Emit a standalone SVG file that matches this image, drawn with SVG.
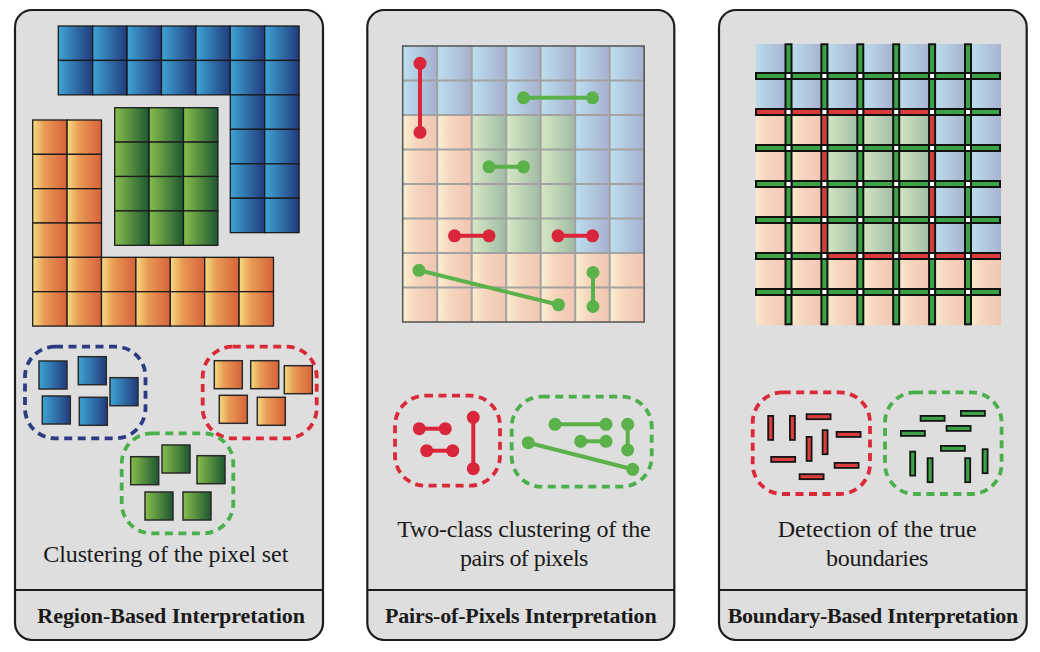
<svg xmlns="http://www.w3.org/2000/svg" xmlns:xlink="http://www.w3.org/1999/xlink" width="1040" height="652" viewBox="0 0 1040 652">
<style>
.panel{fill:#dedede;stroke:#1c1c1c;stroke-width:2.2}
.div{stroke:#1c1c1c;stroke-width:2}
.cap{font-family:"Liberation Serif","Times New Roman",serif;font-size:24px;fill:#1a1a1a;text-anchor:middle}
.hdr{font-family:"Liberation Serif","Times New Roman",serif;font-size:22px;font-weight:bold;fill:#1a1a1a;text-anchor:middle}
.dash{fill:none;stroke-width:3.8;stroke-dasharray:8 5.5}
.dB{stroke:#2d3b83}.dR{stroke:#da2a3a}.dG{stroke:#4bb04c}
.lr{stroke:#d9263a;stroke-width:4;fill:none}
.lg{stroke:#5cb24a;stroke-width:4;fill:none}
.pr{fill:#d9263a}.pg{fill:#5cb24a}
.bar{stroke:#111;stroke-width:2;fill:#3ba346}
.redf{fill:#d93b3b}
.sbR{fill:#d93d3d;stroke:#151515;stroke-width:1.8}
.sbG{fill:#3ba346;stroke:#151515;stroke-width:1.8}
</style>
<defs>
<linearGradient id="gB"><stop offset="0" stop-color="#3ea4d5"/><stop offset="1" stop-color="#213a7c"/></linearGradient>
<linearGradient id="gO"><stop offset="0" stop-color="#f6dc80"/><stop offset="0.35" stop-color="#e89a55"/><stop offset="1" stop-color="#d7623a"/></linearGradient>
<linearGradient id="gG"><stop offset="0" stop-color="#87be4c"/><stop offset="1" stop-color="#1d5731"/></linearGradient>
<linearGradient id="pB"><stop offset="0" stop-color="#bde0f0"/><stop offset="1" stop-color="#a6afcd"/></linearGradient>
<linearGradient id="pO"><stop offset="0" stop-color="#fcf0d0"/><stop offset="0.4" stop-color="#f5d5bd"/><stop offset="1" stop-color="#f1c5b2"/></linearGradient>
<linearGradient id="pG"><stop offset="0" stop-color="#d6e9c6"/><stop offset="1" stop-color="#9fbaa3"/></linearGradient>
<pattern id="p2B" patternUnits="userSpaceOnUse" x="402.7" y="46" width="34.5" height="34.5"><rect width="34.5" height="34.5" fill="url(#pB)"/></pattern>
<pattern id="p2O" patternUnits="userSpaceOnUse" x="402.7" y="46" width="34.5" height="34.5"><rect width="34.5" height="34.5" fill="url(#pO)"/></pattern>
<pattern id="p2G" patternUnits="userSpaceOnUse" x="402.7" y="46" width="34.5" height="34.5"><rect width="34.5" height="34.5" fill="url(#pG)"/></pattern>
<pattern id="p3B" patternUnits="userSpaceOnUse" x="752.6" y="40" width="35.9" height="36"><rect width="35.9" height="36" fill="url(#pB)"/></pattern>
<pattern id="p3O" patternUnits="userSpaceOnUse" x="752.6" y="40" width="35.9" height="36"><rect width="35.9" height="36" fill="url(#pO)"/></pattern>
<pattern id="p3G" patternUnits="userSpaceOnUse" x="752.6" y="40" width="35.9" height="36"><rect width="35.9" height="36" fill="url(#pG)"/></pattern>
<pattern id="p3X" patternUnits="userSpaceOnUse" x="784.5" y="72" width="35.9" height="36"><rect x="1" y="1" width="6" height="6" fill="#fff" stroke="#111" stroke-width="2"/></pattern>
<rect id="cB" width="34.4" height="34.4" fill="url(#gB)" stroke="#1b1b1b" stroke-width="1.3"/>
<rect id="cO" width="34.4" height="34.4" fill="url(#gO)" stroke="#1b1b1b" stroke-width="1.3"/>
<rect id="cG" width="34.4" height="34.4" fill="url(#gG)" stroke="#1b1b1b" stroke-width="1.3"/>
<rect id="sB" width="28" height="28" fill="url(#gB)" stroke="#2a2a2a" stroke-width="1.5"/>
<rect id="sO" width="28" height="28" fill="url(#gO)" stroke="#2a2a2a" stroke-width="1.5"/>
<rect id="sG" width="28" height="28" fill="url(#gG)" stroke="#2a2a2a" stroke-width="1.5"/>
</defs>
<rect width="1040" height="652" fill="#fff"/>

<!-- Panel 1 -->
<g id="panel-region">
<rect class="panel" x="15" y="10" width="308" height="630" rx="17"/>
<line class="div" x1="15" y1="590" x2="323" y2="590"/>
<g id="region-blue">
<use href="#cB" x="58.3" y="26"/><use href="#cB" x="92.7" y="26"/><use href="#cB" x="127.1" y="26"/><use href="#cB" x="161.5" y="26"/><use href="#cB" x="195.9" y="26"/><use href="#cB" x="230.3" y="26"/><use href="#cB" x="264.7" y="26"/>
<use href="#cB" x="58.3" y="60.45"/><use href="#cB" x="92.7" y="60.45"/><use href="#cB" x="127.1" y="60.45"/><use href="#cB" x="161.5" y="60.45"/><use href="#cB" x="195.9" y="60.45"/><use href="#cB" x="230.3" y="60.45"/><use href="#cB" x="264.7" y="60.45"/>
<use href="#cB" x="230.3" y="94.9"/><use href="#cB" x="264.7" y="94.9"/>
<use href="#cB" x="230.3" y="129.35"/><use href="#cB" x="264.7" y="129.35"/>
<use href="#cB" x="230.3" y="163.8"/><use href="#cB" x="264.7" y="163.8"/>
<use href="#cB" x="230.3" y="198.25"/><use href="#cB" x="264.7" y="198.25"/>
</g>
<g id="region-orange">
<use href="#cO" x="32.7" y="120"/><use href="#cO" x="67.1" y="120"/>
<use href="#cO" x="32.7" y="154.33"/><use href="#cO" x="67.1" y="154.33"/>
<use href="#cO" x="32.7" y="188.67"/><use href="#cO" x="67.1" y="188.67"/>
<use href="#cO" x="32.7" y="223"/><use href="#cO" x="67.1" y="223"/>
<use href="#cO" x="32.7" y="257.33"/><use href="#cO" x="67.1" y="257.33"/><use href="#cO" x="101.5" y="257.33"/><use href="#cO" x="135.9" y="257.33"/><use href="#cO" x="170.3" y="257.33"/><use href="#cO" x="204.7" y="257.33"/><use href="#cO" x="239.1" y="257.33"/>
<use href="#cO" x="32.7" y="291.67"/><use href="#cO" x="67.1" y="291.67"/><use href="#cO" x="101.5" y="291.67"/><use href="#cO" x="135.9" y="291.67"/><use href="#cO" x="170.3" y="291.67"/><use href="#cO" x="204.7" y="291.67"/><use href="#cO" x="239.1" y="291.67"/>
</g>
<g id="region-green">
<use href="#cG" x="114.7" y="107.7"/><use href="#cG" x="149.1" y="107.7"/><use href="#cG" x="183.5" y="107.7"/>
<use href="#cG" x="114.7" y="142.1"/><use href="#cG" x="149.1" y="142.1"/><use href="#cG" x="183.5" y="142.1"/>
<use href="#cG" x="114.7" y="176.5"/><use href="#cG" x="149.1" y="176.5"/><use href="#cG" x="183.5" y="176.5"/>
<use href="#cG" x="114.7" y="210.9"/><use href="#cG" x="149.1" y="210.9"/><use href="#cG" x="183.5" y="210.9"/>
</g>
<g id="cluster-blue">
<rect class="dash dB" x="25" y="346.7" width="120.5" height="91.6" rx="30"/>
<use href="#sB" x="39" y="361"/><use href="#sB" x="78.3" y="356.7"/><use href="#sB" x="110" y="377.7"/><use href="#sB" x="42.3" y="396"/><use href="#sB" x="79.3" y="397.3"/>
</g>
<g id="cluster-orange">
<rect class="dash dR" x="202.7" y="346.7" width="114" height="91.6" rx="30"/>
<use href="#sO" x="214.3" y="360.7"/><use href="#sO" x="250.7" y="360.7"/><use href="#sO" x="284.3" y="365.7"/><use href="#sO" x="219.3" y="395.3"/><use href="#sO" x="257.3" y="397.3"/>
</g>
<g id="cluster-green">
<rect class="dash dG" x="121.7" y="433.4" width="111.6" height="99.9" rx="30"/>
<use href="#sG" x="130.7" y="456.7"/><use href="#sG" x="162" y="445"/><use href="#sG" x="197" y="455.7"/><use href="#sG" x="145" y="492"/><use href="#sG" x="183" y="492"/>
</g>
<text class="cap" x="165.8" y="561.5" textLength="245">Clustering of the pixel set</text>
<text class="hdr" x="171.2" y="623" textLength="267.7">Region-Based Interpretation</text>
</g>

<!-- Panel 2 -->
<g id="panel-pairs">
<rect class="panel" x="367.3" y="10" width="307" height="630" rx="17"/>
<line class="div" x1="367.3" y1="590" x2="674.3" y2="590"/>
<g id="pairs-grid">
<path d="M402.7 46H644.2V253H575.2V115H402.7Z" fill="url(#p2B)"/>
<path d="M402.7 115H471.7V253H644.2V322H402.7Z" fill="url(#p2O)"/>
<path d="M471.7 115H575.2V253H471.7Z" fill="url(#p2G)"/>
<path d="M437.2 46V322M471.7 46V322M506.2 46V322M540.7 46V322M575.2 46V322M609.7 46V322M402.7 80.5H644.2M402.7 115H644.2M402.7 149.5H644.2M402.7 184H644.2M402.7 218.5H644.2M402.7 253H644.2M402.7 287.5H644.2" stroke="#a2a2a2" stroke-width="2" fill="none"/>
<rect x="402.7" y="46" width="241.5" height="276" fill="none" stroke="#5a5a5a" stroke-width="1.6"/>
</g>
<g id="pairs-links">
<line class="lr" x1="420" y1="63.3" x2="420" y2="132.3"/><circle class="pr" cx="420" cy="63.3" r="6.5"/><circle class="pr" cx="420" cy="132.3" r="6.5"/>
<line class="lg" x1="523.5" y1="97.8" x2="592.5" y2="97.8"/><circle class="pg" cx="523.5" cy="97.8" r="6.5"/><circle class="pg" cx="592.5" cy="97.8" r="6.5"/>
<line class="lg" x1="489" y1="166.8" x2="523.5" y2="166.8"/><circle class="pg" cx="489" cy="166.8" r="6.5"/><circle class="pg" cx="523.5" cy="166.8" r="6.5"/>
<line class="lr" x1="454.5" y1="235.8" x2="489" y2="235.8"/><circle class="pr" cx="454.5" cy="235.8" r="6.5"/><circle class="pr" cx="489" cy="235.8" r="6.5"/>
<line class="lr" x1="558" y1="235.8" x2="592.5" y2="235.8"/><circle class="pr" cx="558" cy="235.8" r="6.5"/><circle class="pr" cx="592.5" cy="235.8" r="6.5"/>
<line class="lg" x1="419" y1="270.3" x2="558.5" y2="304.8"/><circle class="pg" cx="419" cy="270.3" r="6.5"/><circle class="pg" cx="558.5" cy="304.8" r="6.5"/>
<line class="lg" x1="593" y1="272.5" x2="593" y2="306.5"/><circle class="pg" cx="593" cy="272.5" r="6.5"/><circle class="pg" cx="593" cy="306.5" r="6.5"/>
</g>
<g id="pairs-cluster-red">
<rect class="dash dR" x="395" y="395.7" width="105" height="90" rx="30"/>
<line class="lr" x1="419.3" y1="428.7" x2="445.3" y2="428.7"/><circle class="pr" cx="419.3" cy="428.7" r="6.5"/><circle class="pr" cx="445.3" cy="428.7" r="6.5"/>
<line class="lr" x1="426.7" y1="450.7" x2="452.7" y2="450.7"/><circle class="pr" cx="426.7" cy="450.7" r="6.5"/><circle class="pr" cx="452.7" cy="450.7" r="6.5"/>
<line class="lr" x1="473.3" y1="417.3" x2="473.3" y2="468.7"/><circle class="pr" cx="473.3" cy="417.3" r="6.5"/><circle class="pr" cx="473.3" cy="468.7" r="6.5"/>
</g>
<g id="pairs-cluster-green">
<rect class="dash dG" x="511.7" y="396.7" width="140" height="90" rx="30"/>
<line class="lg" x1="555" y1="424.3" x2="606" y2="424.3"/><circle class="pg" cx="555" cy="424.3" r="6.5"/><circle class="pg" cx="606" cy="424.3" r="6.5"/>
<line class="lg" x1="580.7" y1="441.3" x2="606" y2="441.3"/><circle class="pg" cx="580.7" cy="441.3" r="6.5"/><circle class="pg" cx="606" cy="441.3" r="6.5"/>
<line class="lg" x1="627.7" y1="424.3" x2="627.7" y2="450"/><circle class="pg" cx="627.7" cy="424.3" r="6.5"/><circle class="pg" cx="627.7" cy="450" r="6.5"/>
<line class="lg" x1="528.3" y1="442.7" x2="632.7" y2="469.3"/><circle class="pg" cx="528.3" cy="442.7" r="6.5"/><circle class="pg" cx="632.7" cy="469.3" r="6.5"/>
</g>
<text class="cap" x="524" y="536.7" textLength="253.3">Two-class clustering of the</text>
<text class="cap" x="524.2" y="565.7" textLength="128.3">pairs of pixels</text>
<text class="hdr" x="520.8" y="623" textLength="271.7">Pairs-of-Pixels Interpretation</text>
</g>

<!-- Panel 3 -->
<g id="panel-boundary">
<rect class="panel" x="719" y="10" width="307.7" height="630" rx="17"/>
<line class="div" x1="719" y1="590" x2="1026.7" y2="590"/>
<g id="boundary-grid">
<path d="M756 44H1001V256H932.1V112H756Z" fill="url(#p3B)"/>
<path d="M756 112H824.4V256H1001V325H756Z" fill="url(#p3O)"/>
<path d="M824.4 112H932.1V256H824.4Z" fill="url(#p3G)"/>
<g id="h-bars">
<rect class="bar" x="756" y="73" width="244" height="6"/>
<rect class="bar" x="756" y="109" width="244" height="6"/>
<rect class="bar" x="756" y="145" width="244" height="6"/>
<rect class="bar" x="756" y="181" width="244" height="6"/>
<rect class="bar" x="756" y="217" width="244" height="6"/>
<rect class="bar" x="756" y="253" width="244" height="6"/>
<rect class="bar" x="756" y="289" width="244" height="6"/>
<rect class="redf" x="757" y="110" width="175" height="4"/>
<rect class="redf" x="824.4" y="254" width="175.6" height="4"/>
</g>
<g id="v-bars">
<rect class="bar" x="785.5" y="44.3" width="6" height="280"/>
<rect class="bar" x="821.4" y="44.3" width="6" height="280"/>
<rect class="bar" x="857.3" y="44.3" width="6" height="280"/>
<rect class="bar" x="893.2" y="44.3" width="6" height="280"/>
<rect class="bar" x="929.1" y="44.3" width="6" height="280"/>
<rect class="bar" x="965" y="44.3" width="6" height="280"/>
<rect class="redf" x="822.4" y="112" width="4" height="144"/>
<rect class="redf" x="930.1" y="112" width="4" height="144"/>
</g>
<rect x="784.5" y="72" width="187.5" height="224" fill="url(#p3X)"/>
</g>
<g id="boundary-cluster-red">
<rect class="dash dR" x="752.7" y="392.4" width="117.3" height="101.6" rx="30"/>
<rect class="sbR" x="768.2" y="415.9" width="5" height="24"/>
<rect class="sbR" x="789.9" y="415.9" width="5" height="24"/>
<rect class="sbR" x="806.6" y="414.2" width="24" height="5"/>
<rect class="sbR" x="822.6" y="430.2" width="5" height="24"/>
<rect class="sbR" x="836.6" y="431.9" width="24" height="5"/>
<rect class="sbR" x="806.6" y="436.9" width="5" height="24"/>
<rect class="sbR" x="771.2" y="456.9" width="24" height="5"/>
<rect class="sbR" x="834.6" y="462.9" width="24" height="5"/>
<rect class="sbR" x="799.6" y="474.2" width="24" height="5"/>
</g>
<g id="boundary-cluster-green">
<rect class="dash dG" x="885" y="392.4" width="116.6" height="101.6" rx="30"/>
<rect class="sbG" x="920.6" y="415.9" width="24" height="5"/>
<rect class="sbG" x="960.9" y="410.9" width="24" height="5"/>
<rect class="sbG" x="900.9" y="430.9" width="24" height="5"/>
<rect class="sbG" x="946.6" y="425.9" width="24" height="5"/>
<rect class="sbG" x="940.9" y="445.9" width="24" height="5"/>
<rect class="sbG" x="910.2" y="451.6" width="5" height="24"/>
<rect class="sbG" x="927.6" y="458.2" width="5" height="24"/>
<rect class="sbG" x="965.2" y="458.2" width="5" height="24"/>
<rect class="sbG" x="982.6" y="449.2" width="5" height="24"/>
</g>
<text class="cap" x="877.2" y="536.7" textLength="199">Detection of the true</text>
<text class="cap" x="877.2" y="565.7" textLength="102.3">boundaries</text>
<text class="hdr" x="873" y="623" textLength="290.7">Boundary-Based Interpretation</text>
</g>
</svg>
